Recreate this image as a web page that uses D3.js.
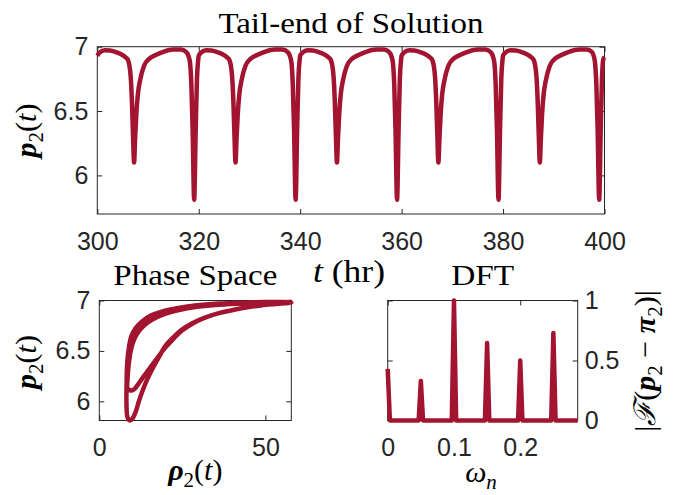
<!DOCTYPE html>
<html>
<head>
<meta charset="utf-8">
<script src="https://cdn.jsdelivr.net/npm/d3@7"></script>
<style>
  html, body { margin: 0; padding: 0; background: #fff; }
  svg { display: block; }
  .tick text { font-family: "Liberation Sans", Arial, Helvetica, sans-serif; font-size: 25px; fill: #262626; }
  .serif { font-family: "Liberation Serif", "Times New Roman", serif; fill: #000; }
</style>
</head>
<body>
<svg id="chart" width="673" height="495"></svg>
<script>
// ---- time series p2(t), 300–400 hr ----
const hours = [
  300, 300.4, 301.5, 302.5, 303.5, 304.5, 305.5, 306, 306.3, 306.6, 306.85, 307.05, 307.25, 307.45, 307.7, 308, 308.5, 309.2, 310.2, 311.5, 313, 315, 316.5, 317.5, 318, 318.3, 318.55, 318.8, 319.1, 319.4, 319.65, 319.9,
  320, 320.4, 321.5, 322.5, 323.5, 324.5, 325.5, 326, 326.3, 326.6, 326.85, 327.05, 327.25, 327.45, 327.7, 328, 328.5, 329.2, 330.2, 331.5, 333, 335, 336.5, 337.5, 338, 338.3, 338.55, 338.8, 339.1, 339.4, 339.65, 339.9,
  340, 340.4, 341.5, 342.5, 343.5, 344.5, 345.5, 346, 346.3, 346.6, 346.85, 347.05, 347.25, 347.45, 347.7, 348, 348.5, 349.2, 350.2, 351.5, 353, 355, 356.5, 357.5, 358, 358.3, 358.55, 358.8, 359.1, 359.4, 359.65, 359.9,
  360, 360.4, 361.5, 362.5, 363.5, 364.5, 365.5, 366, 366.3, 366.6, 366.85, 367.05, 367.25, 367.45, 367.7, 368, 368.5, 369.2, 370.2, 371.5, 373, 375, 376.5, 377.5, 378, 378.3, 378.55, 378.8, 379.1, 379.4, 379.65, 379.9,
  380, 380.4, 381.5, 382.5, 383.5, 384.5, 385.5, 386, 386.3, 386.6, 386.85, 387.05, 387.25, 387.45, 387.7, 388, 388.5, 389.2, 390.2, 391.5, 393, 395, 396.5, 397.5, 397.9, 398.15, 398.4, 398.65, 398.95, 399.25, 399.5, 399.75,
  400
];
const p2Series = [
  6.93, 6.952, 6.972, 6.97, 6.96, 6.945, 6.92, 6.90, 6.86, 6.76, 6.55, 6.30, 6.10, 6.28, 6.48, 6.63, 6.75, 6.85, 6.905, 6.935, 6.96, 6.978, 6.978, 6.96, 6.925, 6.87, 6.70, 6.35, 5.81, 6.35, 6.75, 6.90,
  6.93, 6.952, 6.972, 6.97, 6.96, 6.945, 6.92, 6.90, 6.86, 6.76, 6.55, 6.30, 6.10, 6.28, 6.48, 6.63, 6.75, 6.85, 6.905, 6.935, 6.96, 6.978, 6.978, 6.96, 6.925, 6.87, 6.70, 6.35, 5.81, 6.35, 6.75, 6.90,
  6.93, 6.952, 6.972, 6.97, 6.96, 6.945, 6.92, 6.90, 6.86, 6.76, 6.55, 6.30, 6.10, 6.28, 6.48, 6.63, 6.75, 6.85, 6.905, 6.935, 6.96, 6.978, 6.978, 6.96, 6.925, 6.87, 6.70, 6.35, 5.81, 6.35, 6.75, 6.90,
  6.93, 6.952, 6.972, 6.97, 6.96, 6.945, 6.92, 6.90, 6.86, 6.76, 6.55, 6.30, 6.10, 6.28, 6.48, 6.63, 6.75, 6.85, 6.905, 6.935, 6.96, 6.978, 6.978, 6.96, 6.925, 6.87, 6.70, 6.35, 5.81, 6.35, 6.75, 6.90,
  6.93, 6.952, 6.972, 6.97, 6.96, 6.945, 6.92, 6.90, 6.86, 6.76, 6.55, 6.30, 6.10, 6.28, 6.48, 6.63, 6.75, 6.85, 6.905, 6.935, 6.96, 6.978, 6.978, 6.96, 6.925, 6.87, 6.70, 6.35, 5.81, 6.35, 6.75, 6.90,
  6.92
];

// ---- phase portrait (rho2, p2): shallow-dip loop then deep-dip loop ----
const rhoPhase = [
  57.8, 50, 42, 35, 29, 24, 20, 17, 14.5, 12.5, 11, 10, 9.3, 8.8, 8.5, 8.5, 9.2, 10.3, 11.5, 13.2, 15, 17,
  19.8, 22.3, 24.8, 28, 31.8, 36, 40.9, 46, 52, 57.8,
  50, 43.9, 36, 28.8, 23, 18.8, 15.5, 12.8, 10.8, 9.6, 8.9, 8.4, 8.2, 8.2, 8.5, 9.2, 10, 11, 11.9, 13.8, 15.8, 17.8,
  19.8, 22.3, 24.8, 28, 31.8, 36, 40.9, 46, 52, 57.8
];
const p2Phase = [
  6.985, 6.978, 6.968, 6.955, 6.935, 6.905, 6.87, 6.83, 6.78, 6.72, 6.65, 6.57, 6.47, 6.35, 6.22, 6.13, 6.11, 6.115, 6.16, 6.24, 6.32, 6.41,
  6.53, 6.62, 6.70, 6.77, 6.83, 6.875, 6.91, 6.94, 6.963, 6.98,
  6.985, 6.98, 6.97, 6.95, 6.92, 6.89, 6.85, 6.79, 6.72, 6.64, 6.53, 6.38, 6.15, 5.95, 5.84, 5.81, 5.83, 5.90, 6.00, 6.17, 6.31, 6.43,
  6.545, 6.635, 6.71, 6.775, 6.83, 6.875, 6.91, 6.94, 6.965, 6.985
];

// ---- normalised DFT magnitude ----
const omega = [0, 0.0033, 0.0467, 0.05, 0.0533, 0.0967, 0.1, 0.1033, 0.1467, 0.15, 0.1533, 0.1967, 0.2, 0.2033, 0.2467, 0.25, 0.2533, 0.2867];
const dftMag = [0.43, 0, 0, 0.33, 0, 0, 1, 0, 0, 0.645, 0, 0, 0.50, 0, 0, 0.73, 0, 0];

// ---- tick values ----
const timeTicks = [300, 320, 340, 360, 380, 400];
const p2Ticks = [6, 6.5, 7];
const rhoTicks = [0, 50];
const omegaTicks = [0, 0.1, 0.2];
const dftTicks = [0, 0.5, 1];

const lineColor = "#A2142F";
const axisColor = "#262626";

const svg = d3.select("#chart");

// panel scales
const xTime = d3.scaleLinear().domain([300, 400]).range([97.3, 604.5]);
const yTime = d3.scaleLinear().domain([5.7, 7]).range([214, 46.7]);
const xRho = d3.scaleLinear().domain([0, 57.8]).range([99.3, 291.3]);
const yPhase = d3.scaleLinear().domain([5.81, 7]).range([420.5, 300.5]);
const xOmega = d3.scaleLinear().domain([0, 0.2867]).range([387.7, 577.7]);
const yDft = d3.scaleLinear().domain([0, 1]).range([420.5, 300.5]);

// boxed axes with inward ticks on all four sides
function boxAxes(x, y, xt, yt, yLabelsRight) {
  const [x0, x1] = x.range();
  const [y0, y1] = y.range(); // y0 bottom, y1 top
  const g = svg.append("g").attr("color", axisColor);
  const fmt = d => String(d);
  const tick = 5;
  const bottom = g.append("g").attr("transform", `translate(0,${y0})`)
    .call(d3.axisBottom(x).tickValues(xt).tickSizeInner(-tick).tickSizeOuter(0).tickPadding(18).tickFormat(fmt));
  const top = g.append("g").attr("transform", `translate(0,${y1})`)
    .call(d3.axisTop(x).tickValues(xt).tickSizeInner(-tick).tickSizeOuter(0).tickFormat(() => ""));
  const left = g.append("g").attr("transform", `translate(${x0},0)`)
    .call(d3.axisLeft(y).tickValues(yt).tickSizeInner(-tick).tickSizeOuter(0).tickPadding(9)
      .tickFormat(yLabelsRight ? () => "" : fmt));
  const right = g.append("g").attr("transform", `translate(${x1},0)`)
    .call(d3.axisRight(y).tickValues(yt).tickSizeInner(-tick).tickSizeOuter(0).tickPadding(7)
      .tickFormat(yLabelsRight ? fmt : () => ""));
  [bottom, top, left, right].forEach(a => {
    a.select(".domain").remove();
    a.attr("font-family", null).attr("font-size", null);
    a.selectAll(".tick line").attr("stroke-width", 1);
  });
  g.append("rect")
    .attr("x", x0).attr("y", y1)
    .attr("width", x1 - x0).attr("height", y0 - y1)
    .attr("fill", "none").attr("stroke", axisColor).attr("stroke-width", 1);
  return g;
}

// mixed-style math label: segments of {t, b (bold), i (italic), sub}
function mathText(parent, segs, size) {
  const text = parent.append("text").attr("class", "serif").attr("font-size", size);
  let shifted = false;
  segs.forEach(s => {
    const ts = text.append("tspan").text(s.t);
    if (s.b) ts.attr("font-weight", "bold");
    if (s.i) ts.attr("font-style", "italic");
    if (s.sub && !shifted) { ts.attr("font-size", size * 0.7).attr("dy", size * 0.22); shifted = true; }
    else if (!s.sub && shifted) { ts.attr("dy", -size * 0.22); shifted = false; }
  });
  return text;
}

// ---------- panel 1: tail-end time series ----------
boxAxes(xTime, yTime, timeTicks, p2Ticks, false);
svg.append("path")
  .datum(hours.map((h, i) => [h, p2Series[i]]))
  .attr("fill", "none").attr("stroke", lineColor).attr("stroke-width", 4.5)
  .attr("stroke-linejoin", "round")
  .attr("d", d3.line().x(d => xTime(d[0])).y(d => yTime(d[1])).curve(d3.curveMonotoneX));

// ---------- panel 2: phase space ----------
boxAxes(xRho, yPhase, rhoTicks, p2Ticks, false);
svg.append("path")
  .datum(rhoPhase.map((r, i) => [r, p2Phase[i]]))
  .attr("fill", "none").attr("stroke", lineColor).attr("stroke-width", 4.5)
  .attr("stroke-linejoin", "round")
  .attr("d", d3.line().x(d => xRho(d[0])).y(d => yPhase(d[1])).curve(d3.curveCatmullRom.alpha(0.5)));

// ---------- panel 3: DFT ----------
boxAxes(xOmega, yDft, omegaTicks, dftTicks, true);
svg.append("path")
  .datum(omega.map((w, i) => [w, dftMag[i]]))
  .attr("fill", "none").attr("stroke", lineColor).attr("stroke-width", 4.5)
  .attr("stroke-linejoin", "round")
  .attr("d", d3.line().x(d => xOmega(d[0])).y(d => yDft(d[1])));

// ---------- titles ----------
function title(txt, cx, y, w) {
  svg.append("text").attr("class", "serif")
    .attr("x", cx).attr("y", y).attr("text-anchor", "middle")
    .attr("font-size", 30)
    .attr("textLength", w).attr("lengthAdjust", "spacingAndGlyphs")
    .text(txt);
}
title("Tail-end of Solution", 350.9, 33, 265);
title("Phase Space", 195.3, 285, 164);
title("DFT", 482.7, 285, 63);

// ---------- axis labels ----------
const LS = 30;
mathText(svg, [{ t: "t", i: true }, { t: " (hr)" }], 31)
  .attr("x", 349).attr("y", 282).attr("text-anchor", "middle")
  .attr("textLength", 72).attr("lengthAdjust", "spacingAndGlyphs");

mathText(svg.append("g").attr("transform", "translate(36,130.5) rotate(-90)"),
  [{ t: "p", b: true, i: true }, { t: "2", sub: true }, { t: "(" }, { t: "t", i: true }, { t: ")" }], LS)
  .attr("text-anchor", "middle");

mathText(svg.append("g").attr("transform", "translate(36,362) rotate(-90)"),
  [{ t: "p", b: true, i: true }, { t: "2", sub: true }, { t: "(" }, { t: "t", i: true }, { t: ")" }], LS)
  .attr("text-anchor", "middle");

mathText(svg, [{ t: "ρ", b: true, i: true }, { t: "2", sub: true }, { t: "(" }, { t: "t", i: true }, { t: ")" }], LS)
  .attr("x", 195.3).attr("y", 480).attr("text-anchor", "middle");

mathText(svg, [{ t: "ω", i: true }, { t: "n", i: true, sub: true }], LS)
  .attr("x", 481).attr("y", 482).attr("text-anchor", "middle");

mathText(svg.append("g").attr("transform", "translate(655,361) rotate(-90)"),
  [{ t: "|" }, { t: "ℱ", i: true }, { t: "(" }, { t: "p", b: true, i: true }, { t: "2", sub: true },
   { t: " − " }, { t: "π", b: true, i: true }, { t: "2", sub: true }, { t: ")|" }], LS)
  .attr("text-anchor", "middle");
</script>
</body>
</html>
